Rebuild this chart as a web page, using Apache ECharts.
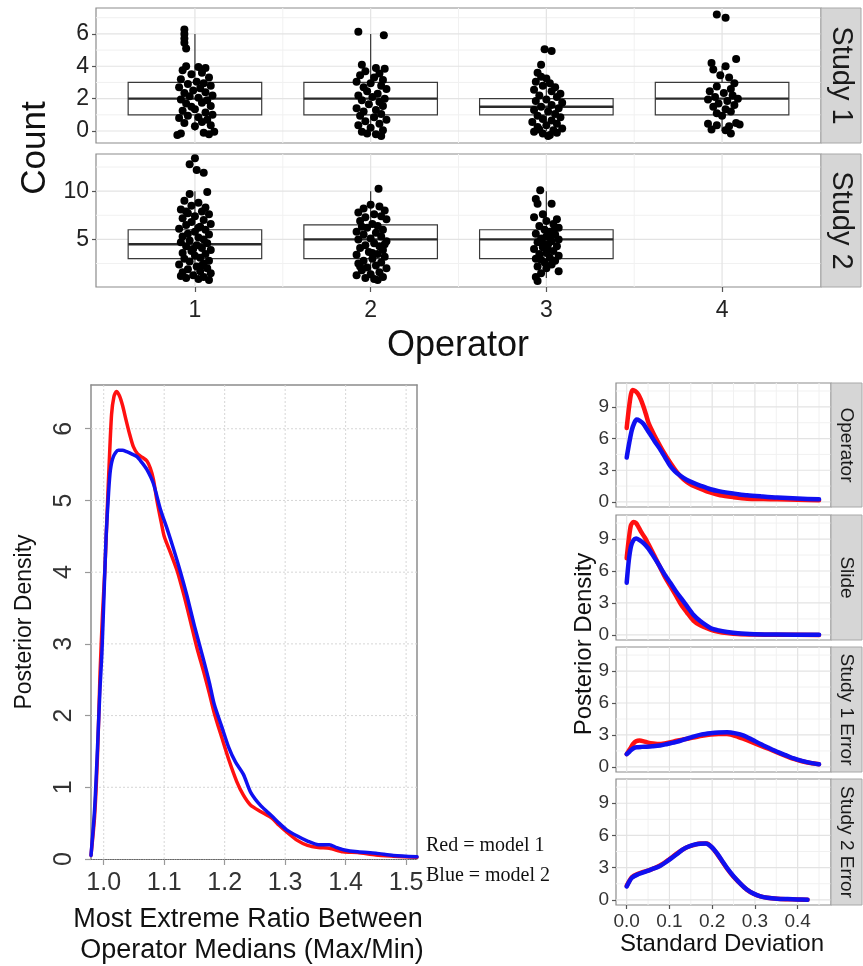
<!DOCTYPE html>
<html>
<head>
<meta charset="utf-8">
<script src="https://cdn.jsdelivr.net/npm/echarts@6/dist/echarts.min.js"></script>
<style>
  html, body { margin: 0; padding: 0; background: #ffffff; }
  #chart { width: 863px; height: 966px; }
</style>
</head>
<body>
<div id="chart"></div>
<script>
// ---------------- Box plot summaries: [operator, lowerWhisker, Q1, median, Q3, upperWhisker]
const study1Boxes = [[1, 0, 1, 2, 3, 6], [2, 0, 1, 2, 3, 6], [3, 0, 1, 1.5, 2, 3], [4, 0, 1, 2, 3, 4]];
const study2Boxes = [[1, 1, 3, 4.5, 6, 10], [2, 1, 3, 5, 6.5, 10], [3, 1, 3, 5, 6, 10]];

// ---------------- Jittered counts per operator: [horizontal jitter, count]
const study1Op1 = [[-0.06,6.27],[-0.06,6.0],[-0.06,5.72],[-0.06,5.45],[-0.05,5.1],[-0.05,4.0],[0.02,3.95],[0.06,3.9],[-0.07,3.75],[0.04,3.6],[-0.02,3.5],[0.08,3.3],[-0.08,3.2],[0.01,3.05],[0.05,2.95],[-0.04,2.9],[0.09,2.8],[-0.09,2.7],[0.03,2.65],[-0.01,2.5],[0.06,2.4],[-0.06,2.35],[0.1,2.2],[-0.03,2.15],[0.02,2.05],[-0.08,1.95],[0.07,1.9],[0.04,1.75],[-0.05,1.7],[0.09,1.55],[-0.02,1.5],[0.0,1.35],[-0.07,1.25],[0.06,1.15],[0.1,1.0],[-0.04,0.95],[0.02,0.85],[-0.09,0.8],[0.07,0.7],[0.04,0.55],[-0.06,0.5],[0.09,0.35],[0.0,0.3],[-0.08,-0.15],[-0.1,-0.25],[0.05,-0.1],[0.08,-0.2],[0.11,-0.05]];
const study1Op2 = [[-0.07,6.13],[0.075,5.92],[-0.05,4.1],[0.03,3.9],[0.08,3.85],[-0.03,3.7],[0.05,3.55],[-0.06,3.45],[0.02,3.3],[0.07,3.15],[-0.08,3.05],[0.0,2.95],[0.06,2.8],[-0.04,2.7],[0.09,2.6],[-0.02,2.45],[0.04,2.3],[-0.07,2.2],[0.01,2.1],[0.08,2.0],[-0.05,1.9],[0.05,1.8],[-0.01,1.65],[0.07,1.55],[-0.08,1.4],[0.03,1.3],[-0.04,1.2],[0.06,1.05],[-0.06,0.95],[0.02,0.85],[0.09,0.7],[-0.03,0.6],[0.05,0.45],[-0.07,0.35],[0.0,0.2],[0.07,0.05],[-0.05,-0.05],[0.03,-0.2],[0.06,-0.3],[-0.02,-0.15]];
const study1Op3 = [[-0.01,5.05],[0.03,4.95],[-0.03,4.1],[-0.05,3.6],[-0.03,3.35],[0.0,3.25],[-0.06,3.05],[0.02,2.95],[-0.02,2.8],[0.05,2.7],[-0.07,2.55],[0.03,2.45],[0.08,2.3],[-0.04,2.2],[0.06,2.1],[0.0,1.95],[-0.06,1.85],[0.09,1.75],[0.03,1.6],[-0.03,1.5],[0.07,1.4],[-0.07,1.3],[0.01,1.2],[0.05,1.05],[-0.05,0.95],[0.08,0.85],[-0.02,0.75],[0.03,0.65],[-0.08,0.55],[0.06,0.45],[0.0,0.35],[-0.05,0.25],[0.09,0.15],[0.04,0.05],[-0.07,-0.05],[-0.02,-0.15],[0.02,-0.25],[0.06,-0.1],[-0.04,0.1],[0.01,-0.3]];
const study1Op4 = [[-0.03,7.2],[0.02,7.0],[0.08,4.45],[-0.06,4.2],[0.02,4.0],[-0.05,3.8],[-0.01,3.45],[0.04,3.3],[0.07,2.95],[-0.03,2.75],[0.05,2.6],[-0.07,2.45],[0.01,2.35],[0.06,2.2],[-0.04,2.1],[0.09,2.0],[-0.08,1.95],[0.03,1.85],[-0.02,1.7],[0.07,1.6],[-0.05,1.5],[0.02,1.35],[0.05,1.2],[-0.03,1.1],[0.0,0.95],[0.08,0.5],[-0.08,0.45],[-0.03,0.35],[0.04,0.3],[0.1,0.4],[-0.06,0.1],[0.05,-0.15],[0.02,0.05]];
const study2Op1 = [[0.0,13.4],[-0.03,12.8],[0.01,12.2],[0.05,11.9],[-0.03,9.7],[0.07,9.9],[-0.06,9.0],[0.02,8.8],[-0.02,8.5],[0.06,8.3],[-0.08,8.1],[0.04,7.9],[-0.04,7.7],[0.08,7.6],[0.0,7.4],[-0.07,7.2],[0.05,7.0],[-0.02,6.8],[0.09,6.6],[-0.05,6.5],[0.03,6.3],[-0.09,6.1],[0.06,6.0],[0.0,5.8],[-0.04,5.6],[0.08,5.5],[-0.07,5.3],[0.02,5.2],[0.05,5.0],[-0.03,4.9],[-0.08,4.7],[0.07,4.6],[0.01,4.4],[-0.05,4.3],[0.04,4.1],[0.09,3.9],[-0.02,3.8],[-0.07,3.6],[0.06,3.5],[0.0,3.3],[0.03,3.1],[-0.06,3.0],[0.08,2.8],[-0.03,2.7],[0.05,2.5],[-0.09,2.4],[0.01,2.2],[0.07,2.0],[-0.04,1.9],[0.03,1.7],[-0.07,1.6],[0.09,1.5],[-0.01,1.3],[0.05,1.1],[-0.05,1.0],[0.02,0.9],[0.08,0.8],[-0.08,1.2],[0.04,2.3],[-0.01,4.0],[0.02,6.2],[-0.05,7.9]];
const study2Op2 = [[0.045,10.25],[0.0,8.6],[0.05,8.4],[-0.04,8.2],[0.08,8.0],[-0.07,7.8],[0.02,7.6],[0.06,7.4],[-0.03,7.3],[0.09,7.1],[-0.06,6.9],[0.01,6.6],[0.04,6.4],[-0.02,6.2],[0.07,6.0],[-0.08,5.8],[0.03,5.7],[-0.04,5.5],[0.06,5.3],[0.0,5.1],[-0.07,5.0],[0.09,4.8],[0.02,4.6],[-0.03,4.4],[0.05,4.3],[-0.06,4.1],[0.07,3.9],[-0.01,3.7],[0.04,3.5],[-0.08,3.4],[0.08,3.2],[0.01,3.0],[-0.04,2.8],[0.06,2.6],[-0.07,2.5],[0.03,2.3],[-0.02,2.1],[0.09,2.0],[-0.05,1.8],[0.05,1.6],[0.0,1.4],[-0.08,1.3],[0.07,1.1],[0.02,0.9],[-0.03,1.0],[0.04,0.8],[-0.06,2.2],[0.08,4.5],[-0.05,6.3],[0.01,3.6]];
const study2Op3 = [[-0.035,10.1],[-0.06,9.2],[-0.05,8.7],[0.03,8.7],[-0.02,7.6],[0.06,7.1],[-0.07,7.3],[0.0,6.9],[0.04,6.6],[-0.04,6.4],[0.07,6.2],[-0.01,6.0],[0.02,5.8],[-0.06,5.6],[0.05,5.5],[0.0,5.3],[-0.03,5.1],[0.07,5.0],[0.03,4.8],[-0.05,4.7],[0.01,4.5],[0.06,4.3],[-0.02,4.2],[-0.07,4.0],[0.04,3.8],[0.0,3.6],[-0.04,3.5],[0.07,3.3],[0.02,3.1],[-0.06,3.0],[0.05,2.8],[-0.01,2.6],[0.03,2.4],[-0.05,2.2],[0.0,2.0],[0.07,1.7],[-0.03,1.5],[-0.06,1.1],[-0.05,0.7],[0.02,5.2],[-0.02,4.6],[0.04,5.9],[0.01,3.9],[-0.03,2.9]];

// ---------------- Posterior density of max/min ratio of operator medians: [ratio, density]
const ratioModel1 = [[0.979,0.05],[0.985,0.6],[0.99,1.5],[0.994,2.6],[0.998,3.4],[1.002,4.05],[1.006,4.9],[1.009,5.5],[1.013,6.2],[1.017,6.45],[1.021,6.52],[1.026,6.46],[1.031,6.33],[1.037,6.12],[1.043,5.92],[1.049,5.75],[1.056,5.65],[1.064,5.6],[1.0715,5.55],[1.077,5.45],[1.082,5.3],[1.088,5.0],[1.095,4.7],[1.1,4.5],[1.11,4.28],[1.121,4.03],[1.132,3.7],[1.143,3.33],[1.154,2.95],[1.165,2.62],[1.175,2.3],[1.183,2.03],[1.195,1.7],[1.207,1.38],[1.22,1.08],[1.231,0.89],[1.243,0.75],[1.26,0.66],[1.278,0.57],[1.29,0.47],[1.302,0.38],[1.32,0.26],[1.337,0.19],[1.355,0.16],[1.373,0.15],[1.396,0.1],[1.42,0.09],[1.45,0.055],[1.479,0.04],[1.518,0.025]];
const ratioModel2 = [[0.979,0.05],[0.985,0.7],[0.99,1.6],[0.994,2.4],[0.997,2.87],[1.001,3.8],[1.004,4.5],[1.008,5.1],[1.011,5.42],[1.016,5.61],[1.024,5.7],[1.031,5.7],[1.038,5.68],[1.046,5.65],[1.055,5.61],[1.063,5.53],[1.0715,5.43],[1.082,5.24],[1.094,4.87],[1.105,4.6],[1.116,4.31],[1.127,4.0],[1.138,3.66],[1.15,3.25],[1.165,2.78],[1.175,2.45],[1.183,2.15],[1.195,1.85],[1.207,1.55],[1.218,1.35],[1.231,1.18],[1.243,0.93],[1.26,0.74],[1.278,0.6],[1.29,0.5],[1.302,0.41],[1.32,0.32],[1.337,0.25],[1.355,0.2],[1.373,0.2],[1.385,0.16],[1.396,0.13],[1.42,0.1],[1.45,0.08],[1.479,0.05],[1.518,0.03]];

// ---------------- Posterior densities of standard deviations: [sd, density]
const operatorModel1 = [[0.0,7.0],[0.005,8.8],[0.01,10.2],[0.014,10.6],[0.02,10.5],[0.027,10.2],[0.033,9.7],[0.039,9.05],[0.045,8.3],[0.051,7.5],[0.06,6.7],[0.07,5.9],[0.085,4.8],[0.102,3.7],[0.117,2.85],[0.133,2.14],[0.15,1.65],[0.172,1.26],[0.195,0.9],[0.219,0.63],[0.25,0.45],[0.282,0.31],[0.32,0.27],[0.352,0.25],[0.4,0.2],[0.45,0.16]];
const operatorModel2 = [[0.0,4.2],[0.006,5.6],[0.012,6.8],[0.018,7.5],[0.023,7.8],[0.03,7.7],[0.039,7.4],[0.047,6.9],[0.055,6.4],[0.066,5.7],[0.078,5.0],[0.09,4.2],[0.102,3.4],[0.113,2.9],[0.125,2.5],[0.14,2.1],[0.156,1.8],[0.175,1.5],[0.196,1.2],[0.215,1.02],[0.235,0.88],[0.26,0.74],[0.282,0.63],[0.315,0.52],[0.352,0.41],[0.4,0.32],[0.45,0.25]];
const slideModel1 = [[0.0,7.2],[0.005,9.0],[0.01,10.3],[0.016,10.6],[0.022,10.5],[0.028,10.1],[0.035,9.6],[0.043,9.1],[0.051,8.5],[0.06,7.8],[0.07,7.0],[0.08,6.2],[0.09,5.4],[0.102,4.6],[0.115,3.7],[0.128,2.8],[0.141,2.1],[0.156,1.35],[0.172,0.9],[0.196,0.5],[0.215,0.3],[0.235,0.18],[0.26,0.08],[0.3,0.03],[0.35,0.01],[0.45,0.0]];
const slideModel2 = [[0.0,4.9],[0.005,7.0],[0.01,8.3],[0.016,8.9],[0.022,9.05],[0.03,8.9],[0.04,8.6],[0.051,8.1],[0.0625,7.4],[0.075,6.6],[0.09,5.6],[0.102,4.9],[0.115,4.1],[0.128,3.4],[0.141,2.7],[0.156,1.9],[0.172,1.3],[0.196,0.65],[0.215,0.42],[0.235,0.27],[0.26,0.15],[0.3,0.07],[0.35,0.03],[0.45,0.01]];
const study1ErrModel1 = [[0.0,1.2],[0.008,1.7],[0.015,2.15],[0.022,2.4],[0.03,2.47],[0.04,2.4],[0.05,2.28],[0.062,2.2],[0.078,2.15],[0.095,2.25],[0.117,2.45],[0.135,2.6],[0.156,2.75],[0.176,2.92],[0.196,3.05],[0.215,3.1],[0.235,3.08],[0.255,2.9],[0.274,2.63],[0.293,2.33],[0.313,2.0],[0.333,1.68],[0.352,1.36],[0.372,1.04],[0.391,0.75],[0.41,0.53],[0.43,0.36],[0.45,0.25]];
const study1ErrModel2 = [[0.0,1.2],[0.008,1.5],[0.016,1.75],[0.023,1.84],[0.035,1.88],[0.047,1.9],[0.06,1.93],[0.078,2.0],[0.095,2.15],[0.117,2.35],[0.135,2.58],[0.156,2.85],[0.176,3.05],[0.196,3.16],[0.215,3.23],[0.235,3.26],[0.255,3.15],[0.274,2.94],[0.293,2.57],[0.313,2.15],[0.333,1.77],[0.352,1.42],[0.372,1.1],[0.391,0.79],[0.41,0.56],[0.43,0.38],[0.45,0.25]];
const study2ErrModel1 = [[0.0,1.3],[0.006,1.75],[0.012,2.1],[0.025,2.4],[0.039,2.6],[0.055,2.8],[0.078,3.2],[0.095,3.65],[0.117,4.3],[0.13,4.65],[0.141,4.9],[0.156,5.1],[0.172,5.25],[0.188,5.25],[0.2,4.85],[0.211,4.3],[0.223,3.6],[0.235,2.9],[0.25,2.15],[0.266,1.5],[0.281,0.95],[0.297,0.56],[0.313,0.32],[0.329,0.19],[0.352,0.1],[0.376,0.06],[0.4,0.03],[0.423,0.01]];
const study2ErrModel2 = [[0.0,1.25],[0.006,1.7],[0.012,2.05],[0.025,2.35],[0.039,2.55],[0.055,2.8],[0.078,3.15],[0.095,3.6],[0.117,4.25],[0.13,4.65],[0.141,4.9],[0.156,5.12],[0.172,5.22],[0.185,5.25],[0.198,4.95],[0.211,4.35],[0.223,3.65],[0.235,2.95],[0.25,2.2],[0.266,1.52],[0.281,0.97],[0.297,0.58],[0.313,0.33],[0.329,0.2],[0.352,0.11],[0.376,0.07],[0.4,0.04],[0.423,0.02]];

// ---------------- Tick values
const operatorTicks = [1, 2, 3, 4];
const operatorMinor = [1.5, 2.5, 3.5];
const study1CountTicks = [0, 2, 4, 6];
const study1CountMinor = [1, 3, 5, 7];
const study2CountTicks = [5, 10];
const study2CountMinor = [2.5, 7.5, 12.5];
const ratioTicks = [1.0, 1.1, 1.2, 1.3, 1.4, 1.5];
const ratioDensityTicks = [0, 1, 2, 3, 4, 5, 6];
const sdTicks = [0, 0.1, 0.2, 0.3, 0.4];
const sdMinor = [0.05, 0.15, 0.25, 0.35, 0.45];
const sdDensityTicks = [0, 3, 6, 9];
const sdDensityMinor = [1.5, 4.5, 7.5, 10.5];
const facetStrips = ['Operator', 'Slide', 'Study 1 Error', 'Study 2 Error'];

// ---------------- Drawing
const SANS = '"Liberation Sans", Arial, Helvetica, sans-serif';
const SERIF = '"Liberation Serif", "Times New Roman", serif';
const BORDER = '#8c8c8c';
const MAJOR = '#e3e3e3';
const MINORC = '#f1f1f1';
const RED = '#ff1010';
const BLUE = '#1010f0';

const chart = echarts.init(document.getElementById('chart'), null, { renderer: 'canvas' });

const grids = [
  { left: 96, top: 8, width: 725, height: 135 },
  { left: 96, top: 154, width: 725, height: 133 },
  { left: 91, top: 385, width: 326, height: 474 },
  { left: 616, top: 383, width: 215, height: 124 },
  { left: 616, top: 515, width: 215, height: 125 },
  { left: 616, top: 647, width: 215, height: 125 },
  { left: 616, top: 779, width: 215, height: 126 }
].map((g, i) => Object.assign({ containLabel: false, show: i !== 2, borderColor: BORDER, borderWidth: 1.2, backgroundColor: '#fff' }, g));

function hasTick(list, v) { return list.some(t => Math.abs(t - v) < 1e-7); }

function axis(gridIndex, min, max, o) {
  o = o || {};
  const ticks = o.ticks || [];
  return {
    type: 'value', gridIndex, min, max, position: o.position,
    splitLine: { show: false },
    axisLine: o.line ? { show: true, onZero: false, lineStyle: o.line } : { show: false, onZero: false },
    axisTick: o.tickLen ? { show: true, customValues: ticks, length: o.tickLen, lineStyle: { color: o.tickColor || '#555', width: 1.2 } } : { show: false },
    axisLabel: o.labels ? {
      show: true, customValues: ticks, margin: o.margin, rotate: o.rotate || 0,
      fontSize: o.fontSize, color: o.color || '#333', fontFamily: SANS,
      formatter: v => hasTick(ticks, v) ? (o.fmt ? o.fmt(v) : String(v)) : ''
    } : { show: false }
  };
}

const X_OP = [0.437, 4.563];
const Y_S1 = [-0.74, 7.6];
const Y_S2 = [0.07, 13.85];
const X_RATIO = [0.979, 1.518];
const Y_RATIO = [0, 6.61];
const X_SD = [-0.025, 0.478];
const Y_SD = [-0.48, 11.26];

const xAxes = [
  axis(0, X_OP[0], X_OP[1]),
  axis(1, X_OP[0], X_OP[1], { ticks: operatorTicks, labels: true, tickLen: 5, margin: 12, fontSize: 23, color: '#222' }),
  axis(2, X_RATIO[0], X_RATIO[1], { ticks: ratioTicks, labels: true, tickLen: 6, margin: 12, fontSize: 25, color: '#333', fmt: v => v.toFixed(1), tickColor: '#999', line: { color: '#666', width: 1.2, type: 'dotted' } }),
  axis(3, X_SD[0], X_SD[1]),
  axis(4, X_SD[0], X_SD[1]),
  axis(5, X_SD[0], X_SD[1]),
  axis(6, X_SD[0], X_SD[1], { ticks: sdTicks, labels: true, tickLen: 4, margin: 7, fontSize: 19, color: '#333', fmt: v => v.toFixed(1) }),
  axis(2, X_RATIO[0], X_RATIO[1], { position: 'top', line: { color: BORDER, width: 1.5 } })
];
const yAxes = [
  axis(0, Y_S1[0], Y_S1[1], { ticks: study1CountTicks, labels: true, tickLen: 4, margin: 7, fontSize: 23, color: '#222' }),
  axis(1, Y_S2[0], Y_S2[1], { ticks: study2CountTicks, labels: true, tickLen: 4, margin: 7, fontSize: 23, color: '#222' }),
  axis(2, Y_RATIO[0], Y_RATIO[1], { ticks: ratioDensityTicks, labels: true, tickLen: 6, margin: 14, fontSize: 25, rotate: 90, color: '#333', tickColor: '#999', line: { color: BORDER, width: 1.5 } }),
  axis(3, Y_SD[0], Y_SD[1], { ticks: sdDensityTicks, labels: true, tickLen: 4, margin: 7, fontSize: 19, color: '#333' }),
  axis(4, Y_SD[0], Y_SD[1], { ticks: sdDensityTicks, labels: true, tickLen: 4, margin: 7, fontSize: 19, color: '#333' }),
  axis(5, Y_SD[0], Y_SD[1], { ticks: sdDensityTicks, labels: true, tickLen: 4, margin: 7, fontSize: 19, color: '#333' }),
  axis(6, Y_SD[0], Y_SD[1], { ticks: sdDensityTicks, labels: true, tickLen: 4, margin: 7, fontSize: 19, color: '#333' }),
  axis(2, Y_RATIO[0], Y_RATIO[1], { position: 'right', line: { color: BORDER, width: 1.5 } })
];

// Gridlines drawn from tick values: [orientation (0 vertical, 1 horizontal), value]
function gridLines(idx, vx, vy, color, width, dash, z) {
  const data = vx.map(v => [0, v]).concat(vy.map(v => [1, v]));
  return {
    type: 'custom', xAxisIndex: idx, yAxisIndex: idx, silent: true, z: z || 1,
    data,
    renderItem(params, api) {
      const cs = params.coordSys;
      const v = api.value(1);
      const p = api.coord([v, v]);
      const shape = api.value(0) === 0
        ? { x1: p[0], y1: cs.y, x2: p[0], y2: cs.y + cs.height }
        : { x1: cs.x, y1: p[1], x2: cs.x + cs.width, y2: p[1] };
      return { type: 'line', shape, style: { stroke: color, lineWidth: width, lineDash: dash || null } };
    }
  };
}

const BOX_HALF = 0.38;
function boxSeries(idx, data) {
  return {
    type: 'custom', xAxisIndex: idx, yAxisIndex: idx, z: 2, data,
    encode: { x: 0, y: [1, 2, 3, 4, 5] },
    renderItem(params, api) {
      const x = api.value(0);
      const lw = api.coord([x, api.value(1)]);
      const q1 = api.coord([x - BOX_HALF, api.value(2)]);
      const med = api.coord([x - BOX_HALF, api.value(3)]);
      const q3 = api.coord([x - BOX_HALF, api.value(4)]);
      const uw = api.coord([x, api.value(5)]);
      const right = api.coord([x + BOX_HALF, api.value(3)])[0];
      const stroke = '#3a3a3a';
      return {
        type: 'group', children: [
          { type: 'line', shape: { x1: uw[0], y1: uw[1], x2: uw[0], y2: q3[1] }, style: { stroke, lineWidth: 1.2 } },
          { type: 'line', shape: { x1: lw[0], y1: lw[1], x2: lw[0], y2: q1[1] }, style: { stroke, lineWidth: 1.2 } },
          { type: 'rect', shape: { x: q3[0], y: q3[1], width: right - q3[0], height: q1[1] - q3[1] }, style: { fill: '#fff', stroke, lineWidth: 1.2 } },
          { type: 'line', shape: { x1: med[0], y1: med[1], x2: right, y2: med[1] }, style: { stroke: '#2a2a2a', lineWidth: 2.4 } }
        ]
      };
    }
  };
}

function jittered(groups) {
  const out = [];
  groups.forEach((g, i) => g.forEach(p => out.push([i + 1 + p[0], p[1]])));
  return out;
}
function dots(idx, data) {
  return { type: 'scatter', xAxisIndex: idx, yAxisIndex: idx, z: 3, symbolSize: 8, itemStyle: { color: '#000', opacity: 1 }, silent: true, data };
}
function curve(idx, data, color, width) {
  return { type: 'line', xAxisIndex: idx, yAxisIndex: idx, z: 4, data, showSymbol: false, smooth: 0.25, silent: true, clip: true, lineStyle: { color, width, cap: 'round', join: 'round' } };
}

const series = [
  gridLines(0, operatorMinor, study1CountMinor, MINORC, 1),
  gridLines(0, operatorTicks, study1CountTicks, MAJOR, 1.2),
  gridLines(1, operatorMinor, study2CountMinor, MINORC, 1),
  gridLines(1, operatorTicks, study2CountTicks, MAJOR, 1.2),
  gridLines(2, ratioTicks, ratioDensityTicks.filter(v => v > 0), '#d6d6d6', 1, [2, 2]),
  boxSeries(0, study1Boxes),
  boxSeries(1, study2Boxes),
  dots(0, jittered([study1Op1, study1Op2, study1Op3, study1Op4])),
  dots(1, jittered([study2Op1, study2Op2, study2Op3])),
  curve(2, ratioModel1, RED, 3.5),
  curve(2, ratioModel2, BLUE, 3.5)
];
const sdPanels = [[operatorModel1, operatorModel2], [slideModel1, slideModel2], [study1ErrModel1, study1ErrModel2], [study2ErrModel1, study2ErrModel2]];
sdPanels.forEach((pair, k) => {
  const idx = 3 + k;
  series.push(gridLines(idx, sdMinor, sdDensityMinor, MINORC, 1));
  series.push(gridLines(idx, sdTicks, sdDensityTicks, MAJOR, 1.2));
  series.push(curve(idx, pair[0], RED, 4.5));
  series.push(curve(idx, pair[1], BLUE, 4.5));
});

// Facet strips and titles
const graphics = [];
function strip(g, text, size) {
  const w = g.stripWidth;
  graphics.push({ type: 'rect', z: 10, shape: { x: g.left + g.width, y: g.top, width: w, height: g.height }, style: { fill: '#d6d6d6', stroke: '#a8a8a8', lineWidth: 1 } });
  graphics.push({ type: 'text', z: 11, x: g.left + g.width + w / 2, y: g.top + g.height / 2, rotation: -Math.PI / 2,
    style: { text, fontSize: size, fill: '#1a1a1a', fontFamily: SANS, align: 'center', verticalAlign: 'middle' } });
}
strip(Object.assign({ stripWidth: 40 }, grids[0]), 'Study 1', 29);
strip(Object.assign({ stripWidth: 40 }, grids[1]), 'Study 2', 29);
facetStrips.forEach((t, k) => strip(Object.assign({ stripWidth: 31 }, grids[3 + k]), t, 19));

function label(text, x, y, size, rot, family) {
  graphics.push({ type: 'text', z: 11, x, y, rotation: rot || 0,
    style: { text, fontSize: size, fill: '#111', fontFamily: family || SANS, align: 'center', verticalAlign: 'middle' } });
}
label('Count', 35, 148, 35, Math.PI / 2);
label('Operator', 458, 346, 36);
label('Posterior Density', 25, 622, 23, Math.PI / 2);
label('Most Extreme Ratio Between', 248, 920, 27);
label('Operator Medians (Max/Min)', 252, 951, 27);
label('Posterior Density', 584, 644, 24, Math.PI / 2);
label('Standard Deviation', 722, 944, 24);
graphics.push({ type: 'text', z: 11, x: 426, y: 846, style: { text: 'Red = model 1', fontSize: 20, fill: '#111', fontFamily: SERIF, align: 'left', verticalAlign: 'middle' } });
graphics.push({ type: 'text', z: 11, x: 426, y: 876, style: { text: 'Blue = model 2', fontSize: 20, fill: '#111', fontFamily: SERIF, align: 'left', verticalAlign: 'middle' } });

chart.setOption({
  animation: false,
  backgroundColor: '#ffffff',
  grid: grids,
  xAxis: xAxes,
  yAxis: yAxes,
  series,
  graphic: graphics
});
</script>
</body>
</html>
